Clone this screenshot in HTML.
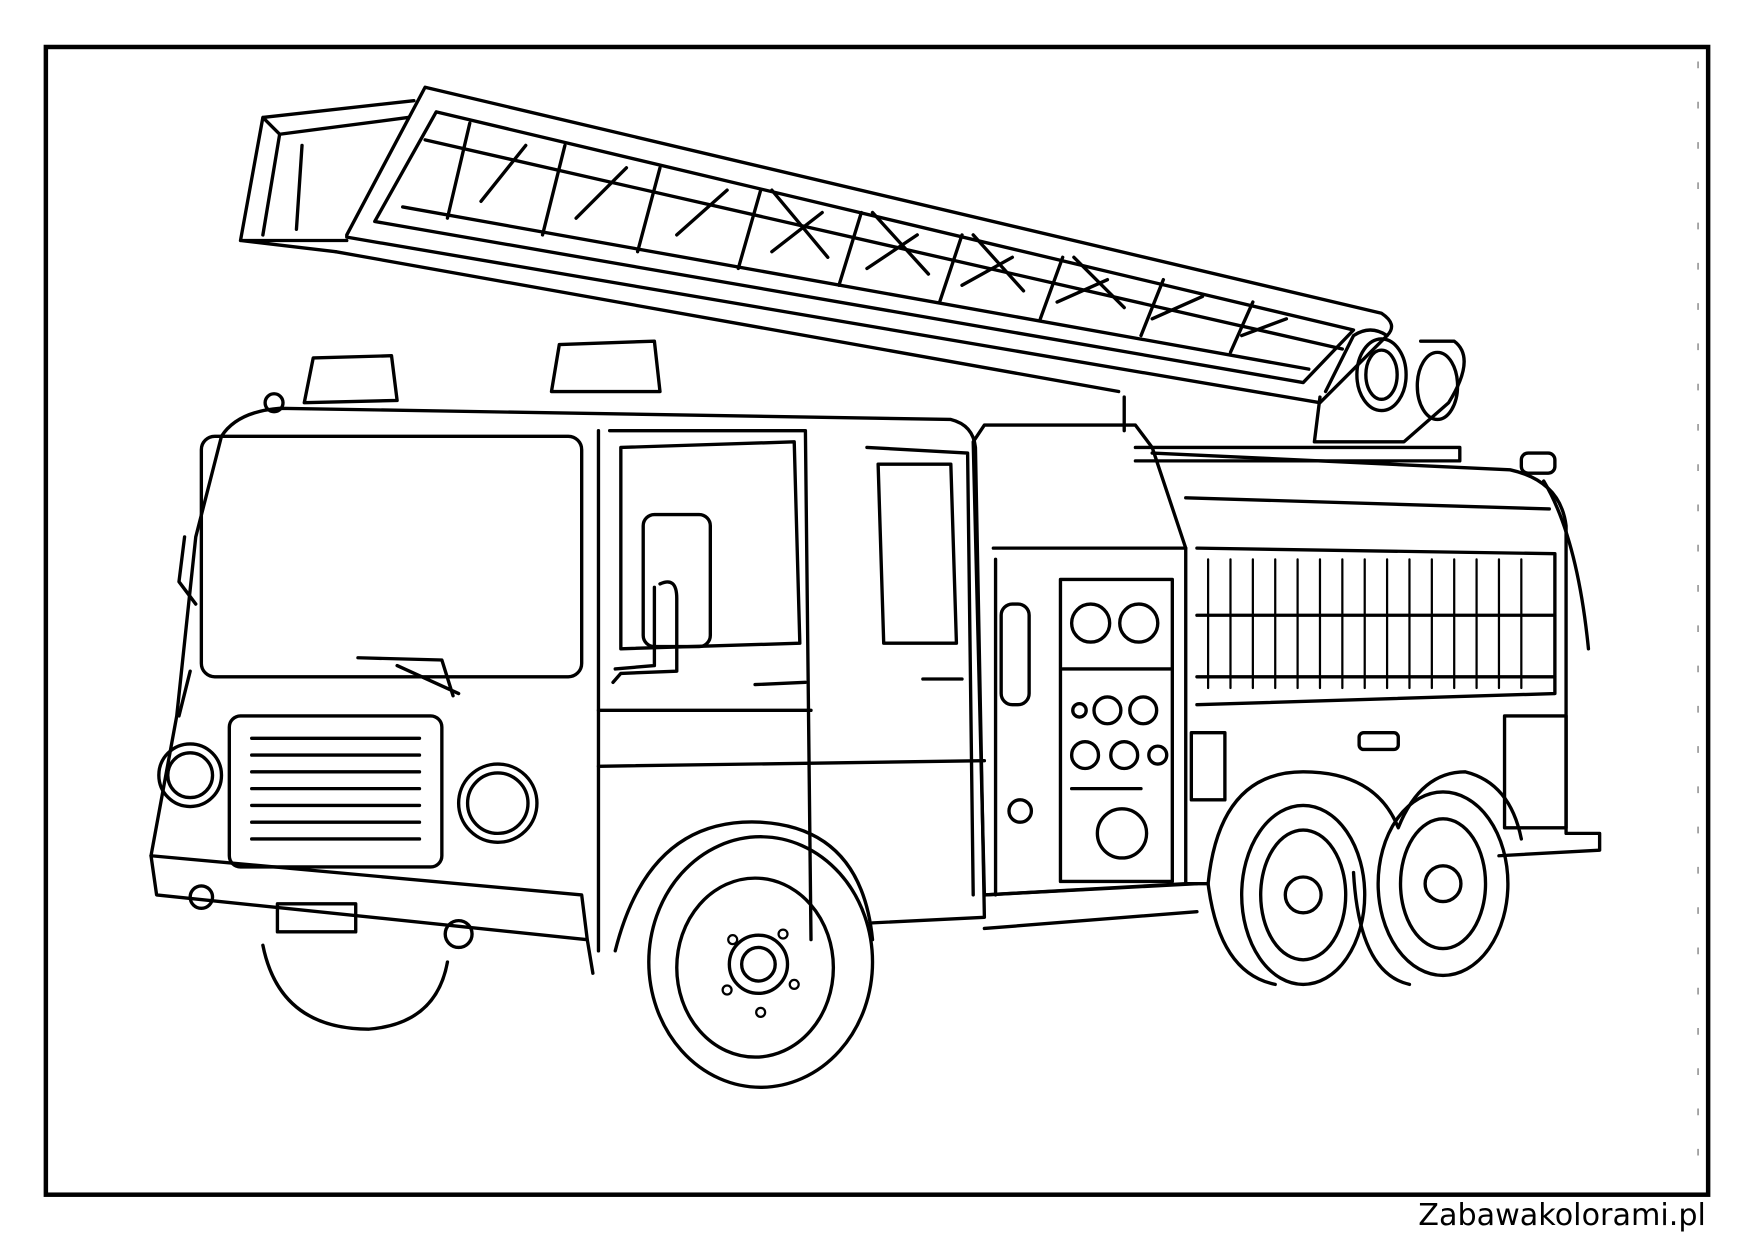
<!DOCTYPE html>
<html><head><meta charset="utf-8"><style>
html,body{margin:0;padding:0;background:#fff;width:1754px;height:1240px;overflow:hidden}
svg{display:block}
</style></head><body>
<svg width="1754" height="1240" viewBox="0 0 1568 1108.5" preserveAspectRatio="none" xmlns="http://www.w3.org/2000/svg">
<rect x="0" y="0" width="1568" height="1108.5" fill="#fff"/>
<rect x="41" y="42" width="1486" height="1026" fill="none" stroke="#000" stroke-width="4"/>
<line x1="1518" y1="55" x2="1518" y2="1060" stroke="#999" stroke-width="1.5" stroke-dasharray="6,30"/>
<text x="1525" y="1095" text-anchor="end" font-family="DejaVu Sans, sans-serif" font-size="27" fill="#000">Zabawakolorami.pl</text>
<g fill="none" stroke="#000" stroke-width="3" stroke-linejoin="round" stroke-linecap="round">
<path d="M215,215 L235,105 L370,90 M235,105 L250,120 L365,105 M215,215 L310,215 M250,120 L235,210 M270,130 L265,205 M215,215 L300,225"/>
<path d="M310,210 L380,78 L1235,280 Q1250,290 1240,300 L1180,360 L310,212 Z"/>
<path d="M335,198 L390,100 L1210,295 L1165,342 Z"/>
<path d="M380,125 L1200,312 M360,185 L1170,330 M300,225 L1000,350"/>
<path d="M420,110 L400,195 M505,130 L485,210 M590,150 L570,225 M680,170 L660,240 M770,190 L750,255 M860,210 L840,270 M950,230 L930,285 M1040,250 L1020,300 M1120,270 L1100,315"/>
<path d="M430,180 L470,130 M515,195 L560,150 M605,210 L650,170 M690,225 L735,190 M775,240 L820,210 M860,255 L905,230 M945,270 L990,250 M1030,285 L1075,265 M1110,300 L1150,285"/>
<path d="M690,170 L740,230 M780,190 L830,245 M870,210 L915,260 M960,230 L1005,275"/>
<path d="M1180,355 L1175,395 L1255,395 L1295,360 Q1320,320 1300,305 L1270,305 M1185,350 L1210,300 Q1225,290 1240,300"/>
<ellipse cx="1235" cy="335" rx="22" ry="32"/><ellipse cx="1235" cy="335" rx="14" ry="22"/>
<ellipse cx="1285" cy="345" rx="18" ry="30"/>
<path d="M1005,355 L1005,385 M1015,400 L1305,400 L1305,412 L1015,412"/>
<path d="M272,360 L280,320 L350,318 L355,358 Z M493,350 L500,308 L585,305 L590,350 Z"/>
<circle cx="245" cy="360" r="8"/>
<path d="M135,765 L158,640 L175,480 L198,390 Q212,368 250,365 L850,375 Q870,380 872,400 L880,820 L780,825"/>
<rect x="180" y="390" width="340" height="215" rx="12"/>
<path d="M320,588 L395,590 L405,622 M355,595 L410,620"/>
<path d="M535,385 L535,850 M555,400 L710,395 L715,575 L555,580 Z M545,385 L720,385 L725,840 M775,400 L865,405 L870,800 M785,415 L850,415 L855,575 L790,575 Z"/>
<path d="M535,635 L725,635 M535,685 L880,680 M675,612 L720,610 M825,607 L860,607"/>
<rect x="575" y="460" width="60" height="118" rx="10"/>
<path d="M590,522 Q605,515 605,535 L605,600 L555,602 L548,610 M585,525 L585,595 L550,598"/>
<path d="M165,480 L160,520 L175,540 M170,600 L160,640"/>
<rect x="205" y="640" width="190" height="135" rx="10"/>
<path d="M225,660 L375,660 M225,675 L375,675 M225,690 L375,690 M225,705 L375,705 M225,720 L375,720 M225,735 L375,735 M225,750 L375,750"/>
<circle cx="170" cy="693" r="28"/><circle cx="170" cy="693" r="20"/>
<circle cx="445" cy="718" r="35"/><circle cx="445" cy="718" r="27"/>
<path d="M135,765 L140,800 L525,840 L530,870 M135,765 L520,800 L525,840"/>
<circle cx="180" cy="802" r="10"/><circle cx="410" cy="835" r="12"/>
<rect x="248" y="808" width="70" height="25"/>
<path d="M235,845 Q250,920 330,920 Q390,915 400,860"/>
<path d="M550,850 Q580,730 680,735 Q770,740 780,840"/>
<ellipse cx="680" cy="860" rx="100" ry="112"/>
<ellipse cx="675" cy="865" rx="70" ry="80"/>
<circle cx="678" cy="862" r="26"/><circle cx="678" cy="862" r="15"/>
<g stroke-width="2"><circle cx="655" cy="840" r="4"/><circle cx="700" cy="835" r="4"/><circle cx="710" cy="880" r="4"/><circle cx="680" cy="905" r="4"/><circle cx="650" cy="885" r="4"/></g>
<path d="M870,395 L880,380 L1015,380 L1030,400 L1060,490 L1060,790 L880,800 Z"/>
<path d="M888,490 L1060,490 M890,500 L890,800"/>
<rect x="948" y="518" width="100" height="270"/>
<circle cx="975" cy="557" r="17"/><circle cx="1018" cy="557" r="17"/>
<path d="M950,598 L1048,598 M958,705 L1020,705"/>
<circle cx="965" cy="635" r="6"/><circle cx="990" cy="635" r="12"/><circle cx="1022" cy="635" r="12"/>
<circle cx="970" cy="675" r="12"/><circle cx="1005" cy="675" r="12"/><circle cx="1035" cy="675" r="8"/>
<circle cx="1003" cy="745" r="22"/>
<rect x="895" y="540" width="25" height="90" rx="10"/>
<circle cx="912" cy="725" r="10"/>
<path d="M1030,405 L1350,420 Q1395,430 1400,470 L1400,745 L1430,745 L1430,760 L1340,765"/>
<path d="M1060,445 L1385,455 M1070,490 L1390,495 L1390,620 L1070,630"/>
<path d="M1080,500 L1080,615 M1100,500 L1100,615 M1120,500 L1120,615 M1140,500 L1140,615 M1160,500 L1160,615 M1180,500 L1180,615 M1200,500 L1200,615 M1220,500 L1220,615 M1240,500 L1240,615 M1260,500 L1260,615 M1280,500 L1280,615 M1300,500 L1300,615 M1320,500 L1320,615 M1340,500 L1340,615 M1360,500 L1360,615" stroke-width="2"/>
<path d="M1070,550 L1390,550 M1070,605 L1390,605"/>
<path d="M1380,430 Q1410,480 1420,580"/>
<rect x="1360" y="405" width="30" height="18" rx="6"/>
<rect x="1345" y="640" width="55" height="100"/>
<rect x="1215" y="655" width="35" height="15" rx="4"/>
<rect x="1065" y="655" width="30" height="60"/>
<path d="M1060,790 L1080,790 Q1090,690 1165,690 Q1230,690 1250,740 Q1270,690 1310,690 Q1350,700 1360,750"/>
<path d="M880,800 L1070,790 M880,830 L1070,815"/>
<ellipse cx="1165" cy="800" rx="55" ry="80"/><ellipse cx="1165" cy="800" rx="38" ry="58"/><circle cx="1165" cy="800" r="16"/>
<ellipse cx="1290" cy="790" rx="58" ry="82"/><ellipse cx="1290" cy="790" rx="38" ry="58"/><circle cx="1290" cy="790" r="16"/>
<path d="M1080,790 Q1090,870 1140,880 M1210,780 Q1215,870 1260,880"/>
</g>
</svg>
</body></html>
